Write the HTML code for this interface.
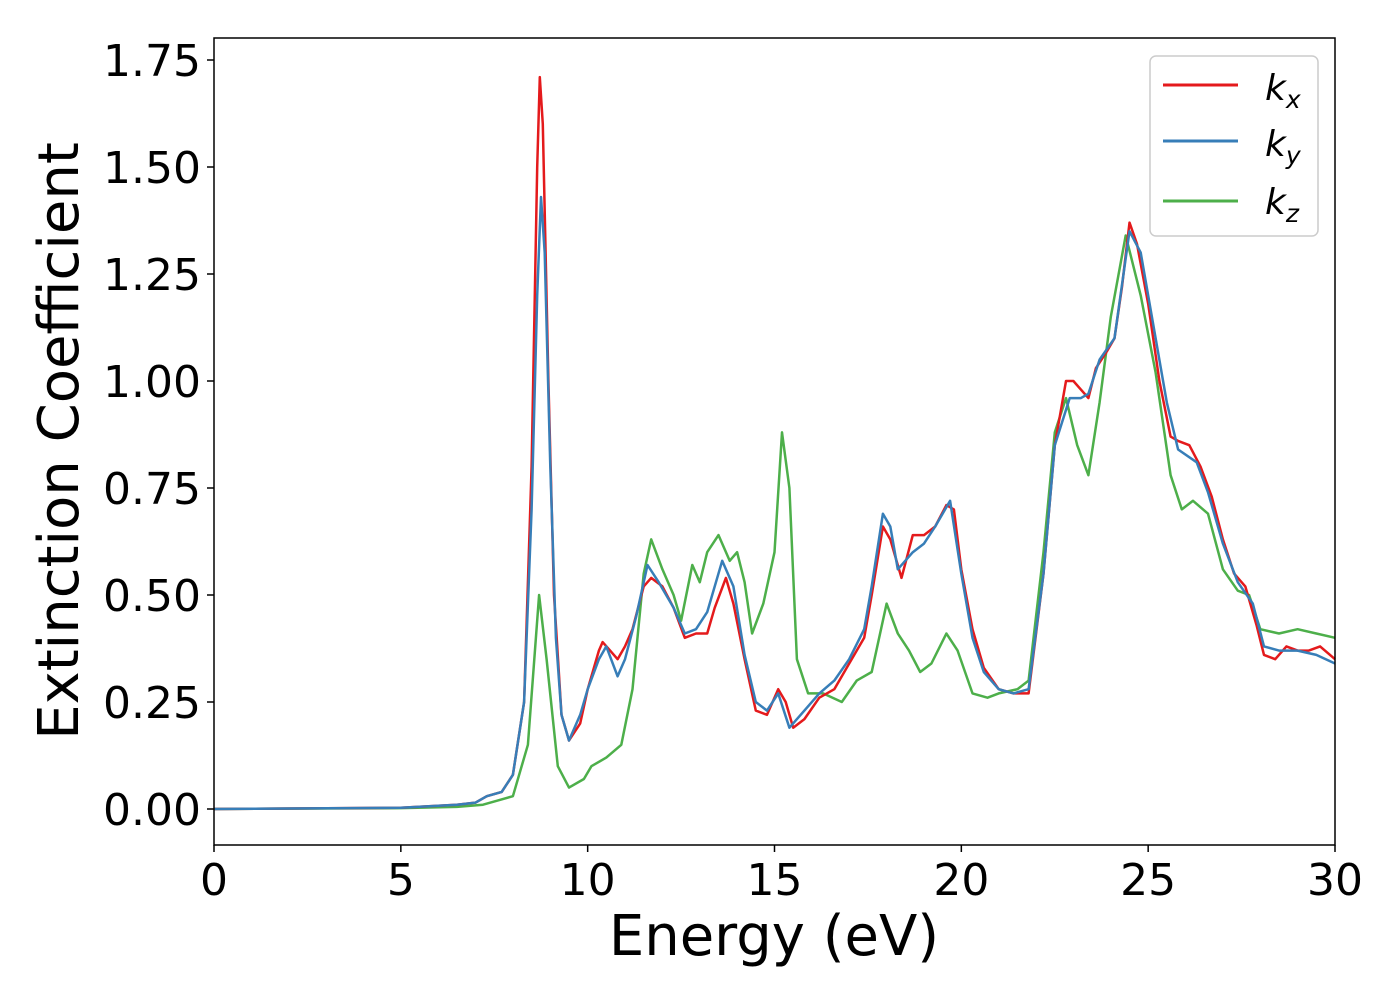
<!DOCTYPE html>
<html><head><meta charset="utf-8"><style>
body{margin:0;background:#fff;}
svg text{font-family:"DejaVu Sans","Liberation Sans",sans-serif;fill:#000;}
</style></head><body>
<svg id="chart" width="1400" height="1000" xmlns="http://www.w3.org/2000/svg">
<g id="grid"></g>
<g id="series"></g>
<rect x="214" y="38" width="1121" height="807" fill="none" stroke="#000" stroke-width="1.5"/>
<g id="axes"></g>
<text x="774" y="955" font-size="56" text-anchor="middle">Energy (eV)</text>
<text transform="translate(78,441) rotate(-90)" font-size="56" text-anchor="middle">Extinction Coefficient</text>
<g>
<rect x="1150" y="56" width="168" height="180" rx="6" fill="#fff" stroke="#ccc" stroke-width="1.5"/>
<line x1="1163" y1="85" x2="1238" y2="85" stroke="#e41a1c" stroke-width="3"/>
<text x="1265" y="100" font-size="36" font-style="italic">k<tspan font-size="25" dy="8">x</tspan></text>
<line x1="1163" y1="141" x2="1238" y2="141" stroke="#377eb8" stroke-width="3"/>
<text x="1265" y="156" font-size="36" font-style="italic">k<tspan font-size="25" dy="8">y</tspan></text>
<line x1="1163" y1="201" x2="1238" y2="201" stroke="#4daf4a" stroke-width="3"/>
<text x="1265" y="214" font-size="36" font-style="italic">k<tspan font-size="25" dy="8">z</tspan></text>
</g>
</svg>
<script>
const xTicks=[0,5,10,15,20,25,30];
const yTicks=[0,0.25,0.5,0.75,1.0,1.25,1.5,1.75];
const kxE=[0,5,6.5,7,7.3,7.7,8.0,8.3,8.5,8.65,8.72,8.8,8.95,9.1,9.3,9.5,9.8,10.0,10.3,10.4,10.6,10.8,11.0,11.2,11.5,11.7,12.0,12.3,12.6,12.9,13.2,13.4,13.7,13.9,14.2,14.5,14.8,15.1,15.3,15.5,15.8,16.2,16.6,17.0,17.4,17.6,17.9,18.1,18.4,18.7,19.0,19.3,19.6,19.8,20.0,20.3,20.6,21.0,21.4,21.8,22.2,22.5,22.8,23.0,23.2,23.4,23.6,23.9,24.1,24.3,24.5,24.7,25.0,25.3,25.6,25.8,26.1,26.4,26.7,27.0,27.3,27.6,27.9,28.1,28.4,28.7,29.0,29.3,29.6,30];
const kxV=[0,0.003,0.01,0.015,0.03,0.04,0.08,0.25,0.8,1.5,1.71,1.6,1.0,0.5,0.22,0.16,0.2,0.28,0.37,0.39,0.37,0.35,0.38,0.42,0.52,0.54,0.52,0.47,0.40,0.41,0.41,0.47,0.54,0.48,0.35,0.23,0.22,0.28,0.25,0.19,0.21,0.26,0.28,0.34,0.40,0.50,0.66,0.63,0.54,0.64,0.64,0.66,0.71,0.70,0.56,0.42,0.33,0.28,0.27,0.27,0.55,0.85,1.0,1.0,0.98,0.96,1.03,1.07,1.1,1.22,1.37,1.32,1.18,1.0,0.87,0.86,0.85,0.80,0.73,0.63,0.55,0.52,0.43,0.36,0.35,0.38,0.37,0.37,0.38,0.35];
const kyE=[0,5,6.5,7,7.3,7.7,8.0,8.3,8.5,8.65,8.75,8.85,9.0,9.15,9.3,9.5,9.8,10.0,10.3,10.5,10.8,11.0,11.3,11.6,11.9,12.3,12.6,12.9,13.2,13.6,13.9,14.2,14.5,14.8,15.1,15.4,15.8,16.2,16.6,17.0,17.4,17.6,17.9,18.1,18.3,18.7,19.0,19.3,19.7,20.0,20.3,20.6,21.0,21.4,21.8,22.2,22.5,22.9,23.2,23.4,23.7,24.1,24.5,24.8,25.1,25.5,25.8,26.3,26.6,27.0,27.4,27.8,28.1,28.5,29.0,29.5,30];
const kyV=[0,0.003,0.01,0.015,0.03,0.04,0.08,0.25,0.7,1.2,1.43,1.3,0.8,0.4,0.22,0.16,0.22,0.28,0.35,0.38,0.31,0.35,0.45,0.57,0.53,0.47,0.41,0.42,0.46,0.58,0.52,0.36,0.25,0.23,0.27,0.19,0.23,0.27,0.30,0.35,0.42,0.52,0.69,0.66,0.56,0.60,0.62,0.66,0.72,0.55,0.40,0.32,0.28,0.27,0.28,0.55,0.85,0.96,0.96,0.97,1.05,1.1,1.35,1.30,1.15,0.95,0.84,0.81,0.74,0.62,0.53,0.48,0.38,0.37,0.37,0.36,0.34];
const kzE=[0,5,6.5,7.2,7.6,8.0,8.4,8.7,8.9,9.2,9.5,9.9,10.1,10.5,10.9,11.2,11.5,11.7,12.0,12.3,12.5,12.8,13.0,13.2,13.5,13.8,14.0,14.2,14.4,14.7,15.0,15.2,15.4,15.6,15.9,16.3,16.8,17.2,17.6,18.0,18.3,18.6,18.9,19.2,19.6,19.9,20.3,20.7,21.0,21.5,21.8,22.2,22.5,22.8,23.1,23.4,23.7,24.0,24.4,24.8,25.2,25.6,25.9,26.2,26.6,27.0,27.4,27.7,28.0,28.5,29.0,29.5,30];
const kzV=[0,0.002,0.005,0.01,0.02,0.03,0.15,0.50,0.35,0.1,0.05,0.07,0.1,0.12,0.15,0.28,0.55,0.63,0.56,0.50,0.44,0.57,0.53,0.60,0.64,0.58,0.60,0.53,0.41,0.48,0.60,0.88,0.75,0.35,0.27,0.27,0.25,0.30,0.32,0.48,0.41,0.37,0.32,0.34,0.41,0.37,0.27,0.26,0.27,0.28,0.30,0.60,0.88,0.96,0.85,0.78,0.95,1.15,1.34,1.2,1.02,0.78,0.70,0.72,0.69,0.56,0.51,0.50,0.42,0.41,0.42,0.41,0.40];
const X0=214,X1=1335,Y0=809,Y1=60;
function xs(v){return X0+(v-0)/30*(X1-X0);}
function ys(v){return Y0-(v/1.75)*(Y0-Y1);}
const NS="http://www.w3.org/2000/svg";
const axes=document.getElementById('axes');
xTicks.forEach(t=>{
 const l=document.createElementNS(NS,'line');
 l.setAttribute('x1',xs(t));l.setAttribute('x2',xs(t));l.setAttribute('y1',845);l.setAttribute('y2',852);l.setAttribute('stroke','#000');l.setAttribute('stroke-width','1.5');
 
 
 axes.appendChild(l);
 const tx=document.createElementNS(NS,'text');
 tx.setAttribute('x',xs(t));tx.setAttribute('y',895);tx.setAttribute('font-size','44');tx.setAttribute('text-anchor','middle');
 tx.textContent=t;
 
 
 axes.appendChild(tx);
});
yTicks.forEach(t=>{
 const l=document.createElementNS(NS,'line');
 l.setAttribute('x1',207);l.setAttribute('x2',214);l.setAttribute('y1',ys(t));l.setAttribute('y2',ys(t));l.setAttribute('stroke','#000');l.setAttribute('stroke-width','1.5');
 
 
 axes.appendChild(l);
 const tx=document.createElementNS(NS,'text');
 tx.setAttribute('x',201);tx.setAttribute('y',ys(t)+16);tx.setAttribute('font-size','44');tx.setAttribute('text-anchor','end');
 tx.textContent=t.toFixed(2);
 
 
 axes.appendChild(tx);
});
const ser=document.getElementById('series');
function draw(E,V,color,name){
 const p=E.map((e,i)=>xs(e).toFixed(1)+','+ys(V[i]).toFixed(1)).join(' ');
 const pl=document.createElementNS(NS,'polyline');
 pl.setAttribute('points',p);pl.setAttribute('fill','none');pl.setAttribute('stroke',color);pl.setAttribute('stroke-width','2.5');pl.setAttribute('stroke-linejoin','round');
 
 
 ser.appendChild(pl);
}
draw(kzE,kzV,'#4daf4a','kz-line');
draw(kxE,kxV,'#e41a1c','kx-line');
draw(kyE,kyV,'#377eb8','ky-line');
</script>
</body></html>
